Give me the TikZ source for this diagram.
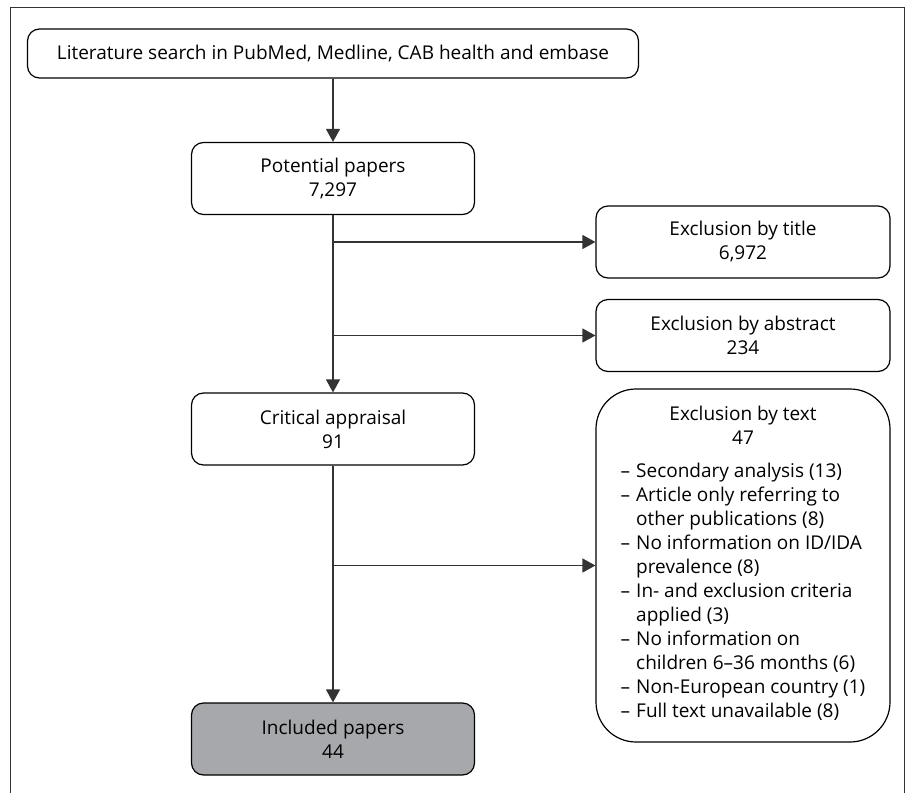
\documentclass[tikz,border=0pt]{standalone}
\usepackage{fontspec}
\setmainfont{Open Sans}
\usetikzlibrary{arrows.meta,positioning}
\definecolor{includedgray}{HTML}{A7A8AB}
\tikzset{paperbox/.style={draw=black, line width=0.6pt, rounded corners=6pt, align=center,
  minimum width=141.5pt, minimum height=36pt, inner sep=0pt, font=\fontsize{9.5}{12}\selectfont}}
\tikzset{flowarrow/.style={draw=black!80, line width=0.7pt, -{Triangle[length=6.5pt,width=7pt]}}}

\begin{document}
\begin{tikzpicture}[x=0.5pt,y=-0.5pt]
\useasboundingbox (0,0) rectangle (912,793);
\draw[black!80, line width=0.5pt] (10.5,793) -- (10.5,7.5) -- (904,7.5) -- (904,793);

\node[paperbox, minimum width=305.5pt, minimum height=24.5pt] (search) at (333,53.5) {Literature search in PubMed, Medline, CAB health and embase};
\node[paperbox] (potential) at (333,178.5) {Potential papers\\7,297};
\node[paperbox, minimum width=147pt] (title) at (743,242) {Exclusion by title\\6,972};
\node[paperbox, minimum width=147pt] (abstract) at (743,335.5) {Exclusion by abstract\\234};
\node[paperbox] (critical) at (333,429) {Critical appraisal\\91};
\node[paperbox, fill=includedgray] (included) at (333,739) {Included papers\\44};
\node[paperbox, rounded corners=20pt, minimum width=147pt, minimum height=176.5pt] (text) at (743,565.5) {Exclusion by text\\47\\[7pt]
  \begin{tabular}{@{}l@{\hspace{3pt}}l@{}}
  -- & Secondary analysis (13)\\
  -- & Article only referring to\\
     & other publications (8)\\
  -- & No information on ID/IDA\\
     & prevalence (8)\\
  -- & In- and exclusion criteria\\
     & applied (3)\\
  -- & No information on\\
     & children 6--36 months (6)\\
  -- & Non-European country (1)\\
  -- & Full text unavailable (8)
  \end{tabular}};

\draw[flowarrow] (search) -- (potential);
\draw[flowarrow] (potential) -- (critical);
\draw[flowarrow] (critical) -- (included);
\draw[flowarrow] (potential.south |- title) -- (title);
\draw[flowarrow] (potential.south |- abstract) -- (abstract);
\draw[flowarrow] (critical.south |- text) -- (text);
\end{tikzpicture}
\end{document}
